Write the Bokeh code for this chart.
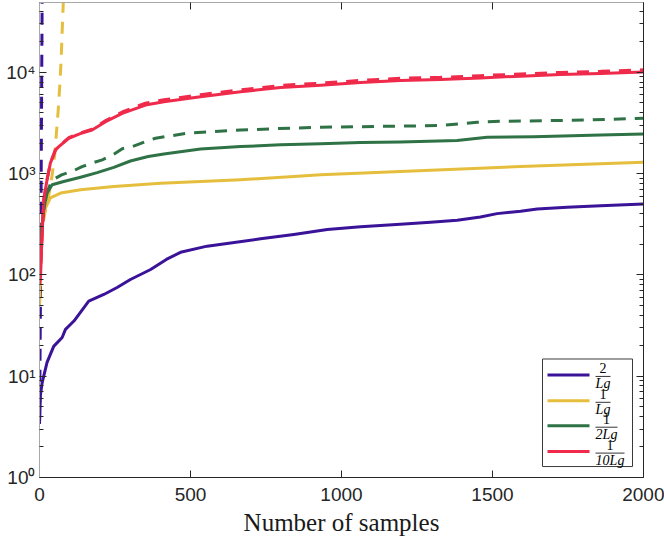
from bokeh.plotting import figure
from bokeh.models import FixedTicker, LinearAxis, LogAxis, CustomJSTickFormatter, Range1d
from bokeh.core.properties import value
from bokeh.embed import file_html
from bokeh.resources import INLINE

# ---------------- data ----------------
n_blue = [0, 1, 3, 9, 25, 47, 75, 86, 114, 163, 213, 257, 301, 368, 420, 467, 555, 621, 732, 842,
          953, 1063, 1195, 1295, 1383, 1460, 1515, 1593, 1648, 1747, 1858, 2000]
v_blue = [3.4, 4.1, 6.5, 8.7, 13.7, 19.7, 24.1, 29, 35, 55, 64, 75, 90, 113, 142, 167, 192, 204, 227, 250,
          280, 298, 316, 330, 346, 373, 402, 424, 447, 464, 482, 501]
n_blue_d = [0, 1, 2, 3, 4, 5, 6, 7, 8, 9]
v_blue_d = [3.4, 7, 18, 50, 150, 500, 1700, 6000, 20000, 70000]

n_yel = [0, 2, 5, 9, 20, 36, 70, 136, 246, 401, 666, 842, 931, 1195, 1593, 2000]
v_yel = [50, 85, 180, 326, 458, 574, 642, 692, 746, 800, 868, 936, 972, 1048, 1173, 1295]
n_yel_d = [0, 5, 12, 25, 35, 42, 50, 56, 62, 67, 71, 76, 80]
v_yel_d = [50, 180, 330, 520, 700, 970, 1500, 2500, 4230, 7300, 12000, 30000, 60000]

n_grn = [0, 3, 9, 14, 25, 42, 80, 136, 191, 246, 301, 360, 412, 533, 666, 798, 931, 1063, 1195, 1383,
         1482, 1637, 1858, 2000]
v_grn = [90, 200, 302, 440, 642, 775, 835, 920, 1020, 1150, 1330, 1470, 1560, 1750, 1845, 1918, 1962, 2019, 2050, 2113,
         2281, 2313, 2404, 2460]
n_grn_d = [0, 3, 9, 14, 25, 42, 73, 108, 141, 174, 208, 246, 274, 307, 351, 384, 417, 489, 566, 666,
           787, 931, 1063, 1228, 1339, 1449, 1526, 1670, 1813, 2000]
v_grn_d = [90, 200, 302, 440, 660, 860, 970, 1050, 1170, 1268, 1365, 1550, 1760, 1845, 2066, 2230, 2313, 2500, 2590, 2690,
           2773, 2860, 2900, 2945, 2993, 3206, 3277, 3321, 3376, 3510]

n_red = [0, 3, 9, 14, 25, 36, 53, 64, 97, 135, 174, 219, 274, 351, 412, 533, 666, 798, 931, 1063,
         1195, 1328, 1460, 1593, 1725, 1858, 2000]
v_red = [80, 97, 260, 552, 868, 1267, 1711, 1845, 2230, 2480, 2690, 3250, 3930, 4740, 5110, 5720, 6400, 7080, 7450, 7920,
         8280, 8480, 8790, 9140, 9490, 9710, 10070]
v_red_d = [80, 97, 260, 552, 868, 1267, 1711, 1860, 2260, 2520, 2740, 3330, 4050, 4950, 5350, 6000, 6700, 7400, 7800, 8300,
           8700, 8900, 9250, 9600, 9950, 10200, 10550]

x_ticks = [0, 500, 1000, 1500, 2000]
y_ticks = [1, 10, 100, 1000, 10000]
legend_num = ["2", "1", "1", "1"]
legend_den = ["Lg", "Lg", "2Lg", "10Lg"]
colors = ["#3a1399", "#e6be3d", "#2e7246", "#ef2a4a"]

# ---------------- layout ----------------
W, H = 664, 538
BL, BR, BT, BB = 39, 21, 2, 59
FW = W - BL - BR
FH = H - BT - BB
PX_PER_DECADE = 101.75
XMAX = 2000
YTOP = 10 ** (FH / PX_PER_DECADE)
AX_DARK = "#262626"
AX_LIGHT = "#a8a8a8"


def fx(px):
    return px / FW * XMAX


def fy(py):
    return 10 ** ((FH - py) / PX_PER_DECADE)


p = figure(width=W, height=H, y_axis_type="log",
           x_range=Range1d(0, XMAX), y_range=Range1d(1, YTOP),
           output_backend="svg", toolbar_location=None,
           min_border_left=BL, min_border_right=BR, min_border_top=BT, min_border_bottom=BB,
           background_fill_color="white", border_fill_color="white")
p.xgrid.visible = False
p.ygrid.visible = False
p.outline_line_color = None

minor = [m * 10 ** k for k in range(0, 5) for m in range(2, 10)]
yticker = FixedTicker(ticks=y_ticks, minor_ticks=minor)
xticker = FixedTicker(ticks=x_ticks, minor_ticks=[])

sup_fmt = CustomJSTickFormatter(code="""
const sup = {'0':'⁰','1':'¹','2':'²','3':'³','4':'⁴','5':'⁵','6':'⁶','7':'⁷','8':'⁸','9':'⁹','-':'⁻'};
const e = Math.round(Math.log10(tick));
return '10' + String(e).split('').map(c => sup[c]).join('');
""")
empty_fmt = CustomJSTickFormatter(code="return '';")

xa = p.xaxis[0]
xa.ticker = xticker
xa.major_tick_in = 7
xa.major_tick_out = 0
xa.minor_tick_in = 0
xa.minor_tick_out = 0
xa.axis_line_color = AX_DARK
xa.major_tick_line_color = AX_DARK
xa.major_label_text_font = "Liberation Sans"
xa.major_label_text_font_size = "19px"
xa.major_label_text_color = AX_DARK
xa.major_label_standoff = 10
xa.axis_label = "Number of samples"
xa.axis_label_text_font = "Liberation Serif"
xa.axis_label_text_font_size = "25px"
xa.axis_label_text_font_style = "normal"
xa.axis_label_text_color = "#1a1a1a"
xa.axis_label_standoff = 5

ya = p.yaxis[0]
ya.ticker = yticker
ya.formatter = sup_fmt
ya.major_tick_in = 7
ya.major_tick_out = 0
ya.minor_tick_in = 4
ya.minor_tick_out = 0
ya.axis_line_color = AX_LIGHT
ya.major_tick_line_color = AX_DARK
ya.minor_tick_line_color = AX_DARK
ya.major_label_text_font = "Liberation Sans"
ya.major_label_text_font_size = "19px"
ya.major_label_text_color = AX_DARK
ya.major_label_standoff = 4

top = LinearAxis(ticker=xticker, formatter=empty_fmt, major_tick_in=7, major_tick_out=0,
                 minor_tick_in=0, minor_tick_out=0, axis_line_color=AX_LIGHT,
                 major_tick_line_color=AX_DARK, major_label_text_font_size="0px",
                 major_label_standoff=0)
right = LogAxis(ticker=yticker, formatter=empty_fmt, major_tick_in=7, major_tick_out=0,
                minor_tick_in=4, minor_tick_out=0, axis_line_color=AX_DARK,
                major_tick_line_color=AX_DARK, minor_tick_line_color=AX_DARK,
                major_label_text_font_size="0px", major_label_standoff=0)
p.add_layout(top, "above")
p.add_layout(right, "right")

LW = 3
DASH = "12 9"
series = [
    (n_blue, v_blue, n_blue_d, v_blue_d, colors[0]),
    (n_yel, v_yel, n_yel_d, v_yel_d, colors[1]),
    (n_grn, v_grn, n_grn_d, v_grn_d, colors[2]),
    (n_red, v_red, n_red, v_red_d, colors[3]),
]
for ns, vs, nd, vd, c in series:
    p.line(ns, vs, line_color=c, line_width=LW, line_join="round")
    p.line(nd, vd, line_color=c, line_width=LW, line_dash=DASH)

# ---------------- legend (positions in frame pixels, converted to data) ----------------
box_l, box_r, box_t, box_b = 503, 593, 358, 466
p.quad(left=[fx(box_l)], right=[fx(box_r)], top=[fy(box_t)], bottom=[fy(box_b)],
       fill_color="white", line_color="#3a3a3a", line_width=1)
entry_y = [374, 400, 425, 451]
bar_w = [15, 15, 22, 29]
smp_x0, smp_x1 = 508, 550
frac_x0 = 556
for i, ey in enumerate(entry_y):
    p.segment(x0=[fx(smp_x0)], y0=[fy(ey)], x1=[fx(smp_x1)], y1=[fy(ey)],
              line_color=colors[i], line_width=LW)
    cx = frac_x0 + bar_w[i] / 2
    p.segment(x0=[fx(frac_x0)], y0=[fy(ey + 1.5)], x1=[fx(frac_x0 + bar_w[i])], y1=[fy(ey + 1.5)],
              line_color="black", line_width=0.8)
    p.text(x=[fx(cx)], y=[fy(ey - 6.5)], text=[legend_num[i]], text_align="center",
           text_baseline="middle", text_font=value("Liberation Serif"), text_font_size="14px",
           text_color="black")
    p.text(x=[fx(cx)], y=[fy(ey + 8.5)], text=[legend_den[i]], text_align="center",
           text_baseline="middle", text_font=value("Liberation Serif"), text_font_size="14px",
           text_font_style="italic", text_color="black")

open("out.html", "w").write(file_html(p, INLINE))
